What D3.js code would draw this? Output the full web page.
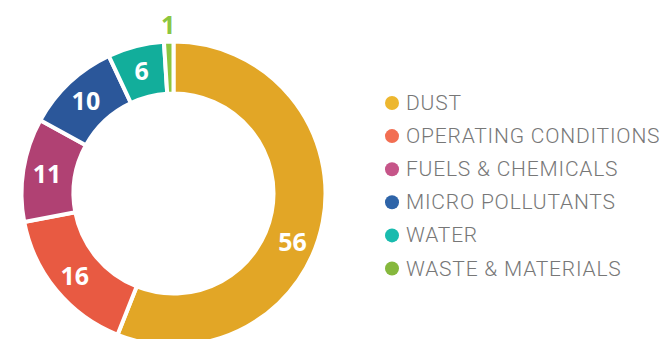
<!DOCTYPE html>
<html>
<head>
<meta charset="utf-8">
<script src="https://cdn.jsdelivr.net/npm/d3@7"></script>
<style>
  html, body { margin: 0; padding: 0; background: #fff; }
  svg { display: block; }
</style>
</head>
<body>
<svg id="chart" width="665" height="339"></svg>
<script>
// Sources of contamination, share in percent
const categories = ["DUST", "OPERATING CONDITIONS", "FUELS & CHEMICALS", "MICRO POLLUTANTS", "WATER", "WASTE & MATERIALS"];
const values = [56, 16, 11, 10, 6, 1];
const sliceColors = ["#E2A626", "#E85A42", "#B04173", "#2B579A", "#12AE9B", "#8CC63F"];
const legendColors = ["#EDB72F", "#F26E52", "#C65589", "#2E64A8", "#19BBAE", "#86B83D"];

const svg = d3.select("#chart");
const cx = 173.5, cy = 193.5;
const outerR = 152, innerR = 100;
const labelR = 128, outsideLabelR = 170;

const color = d3.scaleOrdinal().domain(categories).range(sliceColors);
const legendColor = d3.scaleOrdinal().domain(categories).range(legendColors);

const pie = d3.pie().sort(null).value(d => d.value);
const arcs = pie(categories.map((c, i) => ({ name: c, value: values[i] })));

const arc = d3.arc().innerRadius(innerR).outerRadius(outerR);

const g = svg.append("g").attr("transform", `translate(${cx},${cy})`);

g.selectAll("path.slice")
  .data(arcs)
  .join("path")
  .attr("class", "slice")
  .attr("d", arc)
  .attr("fill", d => color(d.data.name))
  .attr("stroke", "#fff")
  .attr("stroke-width", 4)
  .attr("stroke-linejoin", "miter");

// Value labels: inside the ring, small slices get theirs outside in the slice colour
function labelAngle(d) {
  const span = d.endAngle - d.startAngle;
  // very wide slices: keep the label lower down the right-hand side
  return span > Math.PI ? d.startAngle + span * 0.554 : (d.startAngle + d.endAngle) / 2;
}
g.selectAll("text.value")
  .data(arcs)
  .join("text")
  .attr("class", "value")
  .each(function (d) {
    const a = labelAngle(d);
    const small = d.data.value < 3;
    const r = small ? outsideLabelR : labelR;
    d3.select(this)
      .attr("x", r * Math.sin(a))
      .attr("y", -r * Math.cos(a))
      .attr("fill", small ? color(d.data.name) : "#fff");
  })
  .attr("text-anchor", "middle")
  .attr("dominant-baseline", "central")
  .attr("font-family", "'Open Sans', 'Noto Sans', sans-serif")
  .attr("font-weight", 700)
  .attr("font-size", 25)
  .text(d => d.data.value);

// Legend
const legendY = d3.scalePoint().domain(categories).range([103, 268.5]);
const legend = svg.append("g");
const rows = legend.selectAll("g.row")
  .data(categories)
  .join("g")
  .attr("class", "row")
  .attr("transform", d => `translate(0,${legendY(d)})`);

rows.append("circle")
  .attr("cx", 392)
  .attr("cy", 0)
  .attr("r", 7)
  .attr("fill", d => legendColor(d));

rows.append("text")
  .attr("x", 406)
  .attr("y", 0)
  .attr("dominant-baseline", "central")
  .attr("font-family", "Roboto, sans-serif")
  .attr("font-weight", 300)
  .attr("font-size", 21)
  .attr("letter-spacing", 0.8)
  .attr("fill", "#777")
  .text(d => d);
</script>
</body>
</html>
